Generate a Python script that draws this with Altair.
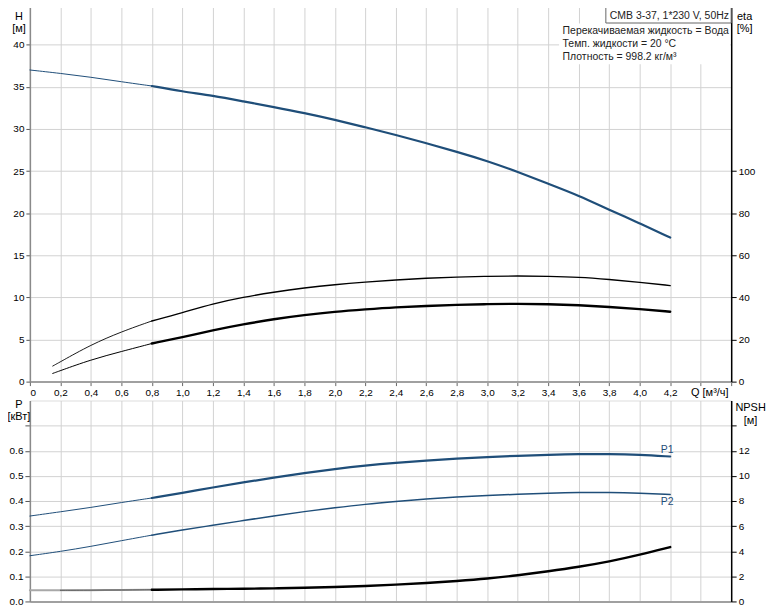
import altair as alt
import pandas as pd

# ---------------- data ----------------
Q = [0.0, 0.2, 0.4, 0.6, 0.8, 1.0, 1.2, 1.4, 1.6, 1.8, 2.0, 2.2, 2.4, 2.6, 2.8, 3.0,
     3.2, 3.4, 3.6, 3.8, 4.0, 4.2]
H = [37.0, 36.6, 36.15, 35.6, 35.1, 34.45, 33.95, 33.27, 32.6, 31.9, 31.1, 30.2, 29.3,
     28.3, 27.3, 26.2, 24.9, 23.5, 22.1, 20.4, 18.8, 17.1]

Q_ETA = [0.15, 0.2, 0.4, 0.6, 0.8, 1.0, 1.2, 1.4, 1.6, 1.8, 2.0, 2.2, 2.4, 2.6, 2.8,
         3.0, 3.2, 3.4, 3.6, 3.8, 4.0, 4.2]
ETA_1 = [7.4, 9.4, 17.5, 23.7, 28.8, 32.7, 37.0, 40.1, 42.5, 44.5, 46.1, 47.3, 48.3,
         49.1, 49.7, 50.0, 50.2, 50.0, 49.6, 48.5, 47.2, 45.6]
ETA_2 = [3.9, 5.2, 10.4, 14.3, 18.1, 21.1, 24.4, 27.2, 29.7, 31.6, 33.2, 34.3, 35.3,
         35.9, 36.5, 36.8, 37.0, 36.8, 36.3, 35.5, 34.5, 33.2]

P1 = [0.340, 0.357, 0.374, 0.394, 0.412, 0.432, 0.454, 0.474, 0.493, 0.511, 0.527,
      0.541, 0.552, 0.561, 0.569, 0.575, 0.580, 0.584, 0.587, 0.587, 0.584, 0.577]
P2 = [0.182, 0.199, 0.219, 0.242, 0.264, 0.285, 0.303, 0.322, 0.341, 0.358, 0.373,
      0.387, 0.398, 0.408, 0.416, 0.422, 0.427, 0.431, 0.434, 0.434, 0.431, 0.426]
NPSH = [0.89, 0.89, 0.90, 0.91, 0.93, 0.96, 0.99, 1.01, 1.04, 1.09, 1.15, 1.23, 1.33,
        1.47, 1.63, 1.81, 2.08, 2.40, 2.75, 3.17, 3.71, 4.33]

X_TICKS = [0.0, 0.2, 0.4, 0.6, 0.8, 1.0, 1.2, 1.4, 1.6, 1.8, 2.0, 2.2, 2.4, 2.6, 2.8,
           3.0, 3.2, 3.4, 3.6, 3.8, 4.0, 4.2, 4.4, 4.6]
H_TICKS = [0, 5, 10, 15, 20, 25, 30, 35, 40, 45]
ETA_TICKS = [0, 20, 40, 60, 80, 100]
P_TICKS = [0.0, 0.1, 0.2, 0.3, 0.4, 0.5, 0.6, 0.7]
NPSH_TICKS = [0, 2, 4, 6, 8, 10, 12, 14]

CURVE_LABELS = ["P1", "P2"]
CURVE_LABEL_Q = [4.18, 4.18]
CURVE_LABEL_P = [0.604, 0.394]

TITLE_TEXT = "CMB 3-37, 1*230 V, 50Hz"
INFO_LINES = ["Перекачиваемая жидкость = Вода", "Темп. жидкости = 20 °C",
              "Плотность = 998.2 кг/м³"]

# ---------------- styling ----------------
FONT = "Liberation Sans"
BLUE = "#1f4e79"
GRID = "#d2d2d2"
TXT = "#222222"

df_h = pd.DataFrame({"Q": Q, "H": H})
df_eta = pd.DataFrame({"Q": Q_ETA, "e1": ETA_1, "e2": ETA_2})
df_p = pd.DataFrame({"Q": Q, "P1": P1, "P2": P2, "NPSH": NPSH})
df_lab = pd.DataFrame({"Q": CURVE_LABEL_Q, "P": CURVE_LABEL_P, "t": CURVE_LABELS})
df_one = pd.DataFrame({"k": [0]})

x_scale = alt.Scale(domain=[0, 4.6], nice=False, zero=False)
x_axis_top = alt.Axis(
    values=X_TICKS, grid=True, gridColor=GRID,
    labelExpr="datum.value > 4.3 ? '' : (datum.value == 0 ? '0' : replace(format(datum.value, '.1f'), '.', ','))",
    title="Q [м³/ч]", titleX=683, titleY=11, titleBaseline="middle", titleAlign="center",
    titleFontWeight="normal", domainColor="#a0a0a0", domainWidth=2,
    tickColor="#666666", tickSize=4, labelPadding=2,
)
x_axis_bot = alt.Axis(values=X_TICKS, grid=True, gridColor=GRID, labels=False,
                      ticks=False, title=None, domainColor="#a0a0a0", domainWidth=2)

h_scale = alt.Scale(domain=[0, 45], nice=False)
eta_scale = alt.Scale(domain=[0, 180], nice=False)
p_scale = alt.Scale(domain=[0, 0.8], nice=False)
npsh_scale = alt.Scale(domain=[0, 16], nice=False)

h_axis = alt.Axis(
    orient="left", values=H_TICKS, grid=True, gridColor=GRID,
    labelExpr="datum.value > 42 ? '' : datum.label",
    title=["H", "[м]"], titleAngle=0, titleX=-11.5, titleY=8, titleBaseline="top",
    titleAlign="center", titleLineHeight=12, titleFontWeight="normal",
    domainColor="#8a8a8a", domainWidth=1.5, tickColor="#555555", tickSize=4, labelPadding=2,
)
eta_axis = alt.Axis(
    orient="right", values=ETA_TICKS, grid=False,
    title=["eta", "[%]"], titleAngle=0, titleX=13, titleY=8, titleBaseline="top",
    titleAlign="center", titleLineHeight=12, titleFontWeight="normal",
    domainColor="#000000", domainWidth=1.5, tickColor="#000000", tickSize=5, labelPadding=2,
)
p_axis = alt.Axis(
    orient="left", values=P_TICKS, grid=True, gridColor=GRID,
    labelExpr="datum.value > 0.65 ? '' : format(datum.value, '.1f')",
    title=["P", "[кВт]"], titleAngle=0, titleX=-11.5, titleY=-2, titleBaseline="top",
    titleAlign="center", titleLineHeight=12, titleFontWeight="normal",
    domainColor="#8a8a8a", domainWidth=1.5, tickColor="#555555", tickSize=5, labelPadding=2,
)
npsh_axis = alt.Axis(
    orient="right", values=NPSH_TICKS, grid=False,
    labelExpr="datum.value > 13 ? '' : datum.label",
    title=["NPSH", "[м]"], titleAngle=0, titleX=19, titleY=1.5, titleBaseline="top",
    titleAlign="center", titleLineHeight=13, titleFontWeight="normal",
    domainColor="#000000", domainWidth=1.5, tickColor="#000000", tickSize=5, labelPadding=2,
)


def curve(df, field, scale, color, width, filt, xaxis, axis=None):
    ch = alt.Chart(df).mark_line(color=color, strokeWidth=width, interpolate="basis",
                                 strokeCap="round")
    ch = ch.transform_filter(filt)
    return ch.encode(
        x=alt.X("Q:Q", scale=x_scale, axis=xaxis),
        y=alt.Y(f"{field}:Q", scale=scale, axis=axis),
    )


THIN = "datum.Q <= 0.8"
THICK = "datum.Q >= 0.8"

h_thin = curve(df_h, "H", h_scale, BLUE, 1, THIN, x_axis_top, h_axis)
h_thick = curve(df_h, "H", h_scale, BLUE, 2.2, THICK, x_axis_top)
e1_thin = curve(df_eta, "e1", eta_scale, "#000000", 0.9, THIN, x_axis_top, eta_axis)
e1_thick = curve(df_eta, "e1", eta_scale, "#000000", 1.4, THICK, x_axis_top)
e2_thin = curve(df_eta, "e2", eta_scale, "#000000", 1, THIN, x_axis_top)
e2_thick = curve(df_eta, "e2", eta_scale, "#000000", 2.4, THICK, x_axis_top)

info_rect = alt.Chart(df_one).mark_rect(fill="white").encode(
    x=alt.value(532), x2=alt.value(704), y=alt.value(21), y2=alt.value(62))
title_rect = alt.Chart(df_one).mark_rect(fill="white", stroke="#666666", strokeWidth=1).encode(
    x=alt.value(579), x2=alt.value(705), y=alt.value(0), y2=alt.value(20.5))
title_txt = alt.Chart(df_one).mark_text(
    font=FONT, fontSize=10.5, color=TXT, align="left", baseline="alphabetic").encode(
    x=alt.value(583), y=alt.value(16.5), text=alt.value(TITLE_TEXT))
info_txt = alt.Chart(df_one).mark_text(
    font=FONT, fontSize=10.5, color=TXT, align="left", baseline="top",
    lineBreak="\n", lineHeight=12.8).encode(
    x=alt.value(535.5), y=alt.value(24), text=alt.value("\n".join(INFO_LINES)))

top = alt.layer(
    h_thin, h_thick, e1_thin, e1_thick, e2_thin, e2_thick,
    info_rect, title_rect, title_txt, info_txt,
).resolve_scale(y="independent").properties(width=705, height=381)

p1_thin = curve(df_p, "P1", p_scale, BLUE, 1, THIN, x_axis_bot, p_axis)
p1_thick = curve(df_p, "P1", p_scale, BLUE, 2.2, THICK, x_axis_bot)
p2_thin = curve(df_p, "P2", p_scale, BLUE, 1, THIN, x_axis_bot)
p2_thick = curve(df_p, "P2", p_scale, BLUE, 1.5, THICK, x_axis_bot)
n_thin = curve(df_p, "NPSH", npsh_scale, "#a8a8a8", 2, THIN, x_axis_bot, npsh_axis)
n_thin2 = curve(df_p, "NPSH", npsh_scale, "#333333", 0.7, "datum.Q >= 0.2 && datum.Q <= 0.8",
                x_axis_bot)
n_thick = curve(df_p, "NPSH", npsh_scale, "#000000", 2.4, THICK, x_axis_bot)

labels = alt.Chart(df_lab).mark_text(
    font=FONT, fontSize=10.5, color=BLUE, align="center", baseline="middle").encode(
    x=alt.X("Q:Q", scale=x_scale, axis=x_axis_bot),
    y=alt.Y("P:Q", scale=p_scale, axis=None),
    text="t:N",
)

bottom = alt.layer(
    p1_thin, p1_thick, p2_thin, p2_thick, n_thin, n_thin2, n_thick, labels,
).resolve_scale(y="independent").properties(width=705, height=202)

chart = alt.vconcat(
    top, bottom, spacing=19, bounds="flush",
    padding={"left": -2, "top": -8, "right": 0, "bottom": 0},
).configure_view(stroke="#a8a8a8", strokeWidth=2).configure_axis(
    labelFont=FONT, titleFont=FONT, labelFontSize=10, titleFontSize=10,
    labelColor=TXT, titleColor=TXT,
).configure(background="white")

chart.save("out.html", embed_options={"renderer": "svg", "actions": False})
